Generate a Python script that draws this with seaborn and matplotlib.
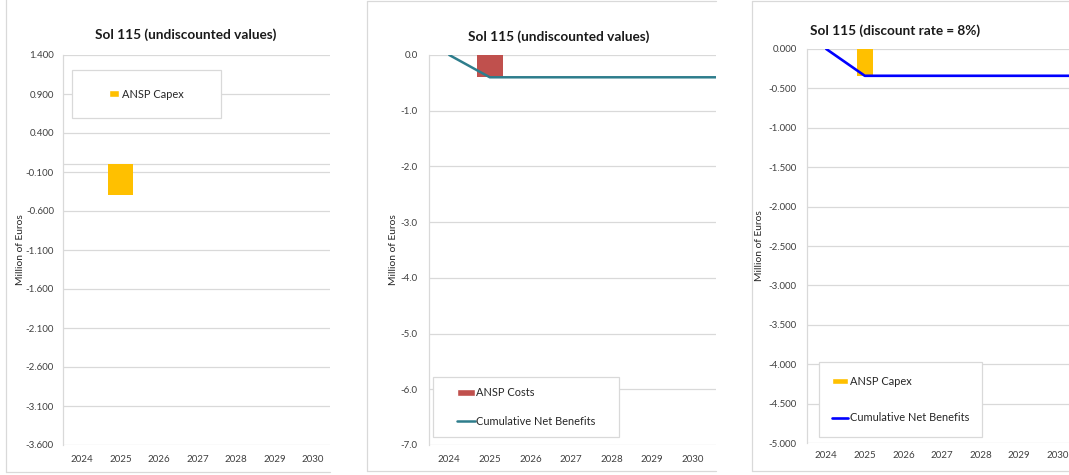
import matplotlib
matplotlib.use("Agg")
import matplotlib.pyplot as plt
from matplotlib.lines import Line2D
from matplotlib.patches import Patch, Rectangle
import seaborn as sns

# ---------------- data ----------------
years = ["2024", "2025", "2026", "2027", "2028", "2029", "2030", "2031"]
ansp_capex_undiscounted = [0.0, -0.39, 0.0, 0.0, 0.0, 0.0, 0.0, 0.0]
ansp_costs_undiscounted = [0.0, -0.40, 0.0, 0.0, 0.0, 0.0, 0.0, 0.0]
cum_net_benefits_undiscounted = [0.0, -0.40, -0.40, -0.40, -0.40, -0.40, -0.40, -0.40]
ansp_capex_discounted = [0.0, -0.34, 0.0, 0.0, 0.0, 0.0, 0.0, 0.0]
cum_net_benefits_discounted = [0.0, -0.34, -0.34, -0.34, -0.34, -0.34, -0.34, -0.34]

yticks_p1 = [1.4, 0.9, 0.4, -0.1, -0.6, -1.1, -1.6, -2.1, -2.6, -3.1, -3.6]
yticks_p2 = [0.0, -1.0, -2.0, -3.0, -4.0, -5.0, -6.0, -7.0]
yticks_p3 = [0.0, -0.5, -1.0, -1.5, -2.0, -2.5, -3.0, -3.5, -4.0, -4.5, -5.0]
visible_years = ["2024", "2025", "2026", "2027", "2028", "2029", "2030"]

titles = ["Sol 115 (undiscounted values)", "Sol 115 (undiscounted values)",
          "Sol 115 (discount rate = 8%)"]
ylabel = "Million of Euros"

# ---------------- style ----------------
sns.set_theme(style="white")
plt.rcParams["font.family"] = ["Lato", "DejaVu Sans"]
plt.rcParams["axes.unicode_minus"] = False

YELLOW = "#FFC000"
RED = "#C0504D"
TEAL = "#2E7D8C"
BLUE = "#0000FF"
GRID = "#D9D9D9"
TXT = "#404040"

W, H = 1069, 475
fig = plt.figure(figsize=(W / 100, H / 100), dpi=100)
fig.patch.set_facecolor("white")


def fx(px):
    return px / W


def fy(py):
    return 1 - py / H


def make_axes(l, r, t, b):
    return fig.add_axes([l / W, 1 - b / H, (r - l) / W, (b - t) / H])


def style_axes(ax, yticks, fmt, ylim, xlim, xpad, ypad, title, title_x, title_y, label_x):
    ax.set_ylim(*ylim)
    ax.set_xlim(*xlim)
    ax.set_yticks(yticks, labels=[fmt.format(v) for v in yticks])
    ax.set_xticks(range(len(visible_years)), labels=visible_years)
    ax.yaxis.grid(True, color=GRID, lw=0.9, zorder=0)
    ax.xaxis.grid(False)
    ax.set_axisbelow(True)
    for s in ["top", "right", "bottom"]:
        ax.spines[s].set_visible(False)
    ax.spines["left"].set_color(GRID)
    ax.spines["left"].set_linewidth(0.9)
    ax.tick_params(axis="both", length=0, labelsize=7, colors=TXT)
    ax.tick_params(axis="x", pad=xpad)
    ax.tick_params(axis="y", pad=ypad)
    ax.set_xlabel("")
    ax.set_ylabel(ylabel, fontsize=7.4, color="#262626")
    ax.yaxis.set_label_coords(label_x, 0.5)
    ax.text(title_x, title_y, title, transform=fig.transFigure, ha="center", va="center",
            fontsize=9.8, fontweight="bold", color="#1a1a1a")


def panel_border(l, t, r, b, top=True):
    kw = dict(transform=fig.transFigure, color=GRID, lw=0.9)
    fig.add_artist(Line2D([fx(l), fx(l)], [fy(t), fy(b)], **kw))
    fig.add_artist(Line2D([fx(l), fx(r)], [fy(b), fy(b)], **kw))
    if top:
        fig.add_artist(Line2D([fx(l), fx(r)], [fy(t), fy(t)], **kw))


def legend_box(l, t, r, b, handles, labels, hl, hh, spacing, tpad):
    fig.add_artist(Rectangle((fx(l), fy(b)), (r - l) / W, (b - t) / H,
                             transform=fig.transFigure, facecolor="white",
                             edgecolor=GRID, lw=0.9, zorder=3))
    leg = fig.legend(handles, labels, loc="center",
                     bbox_to_anchor=(fx((l + r) / 2), fy((t + b) / 2)),
                     bbox_transform=fig.transFigure, frameon=False,
                     fontsize=7.9, handlelength=hl, handleheight=hh,
                     labelspacing=spacing, handletextpad=tpad, borderpad=0.2)
    leg.set_zorder(4)
    for t_ in leg.get_texts():
        t_.set_color("#262626")


# panel borders
panel_border(5.5, -5, 330, 471.5, top=False)
panel_border(367, 1, 716, 471)
panel_border(752, 1, 1070, 471)

bar_kw = dict(order=years, saturation=1, errorbar=None, linewidth=0, zorder=3)

# ---------------- panel 1 ----------------
ax1 = make_axes(63, 330, 55, 445)
ax1.axhline(0, color=GRID, lw=0.9, zorder=1)
sns.barplot(x=years, y=ansp_capex_undiscounted, color=YELLOW, width=0.65, ax=ax1, **bar_kw)
style_axes(ax1, yticks_p1, "{:.3f}", (-3.6, 1.4), (-0.5, 6.44), 7, 6.5,
           titles[0], fx(186), fy(35), (25 - 63) / 267)
legend_box(72, 70, 221, 118, [Patch(facecolor=YELLOW)], ["ANSP Capex"],
           0.85, 0.55, 1.0, 0.3)

# ---------------- panel 2 ----------------
ax2 = make_axes(429, 716, 55, 445)
sns.barplot(x=years, y=ansp_costs_undiscounted, color=RED, width=0.65, ax=ax2, **bar_kw)
sns.lineplot(x=years, y=cum_net_benefits_undiscounted, color=TEAL, linewidth=1.8,
             sort=False, ax=ax2, zorder=4)
style_axes(ax2, yticks_p2, "{:.1f}", (-7.0, 0.0), (-0.5, 6.58), 7, 8,
           titles[1], fx(559), fy(37), (398 - 429) / 287)
legend_box(433, 377, 619, 437,
           [Patch(facecolor=RED), Line2D([], [], color=TEAL, lw=1.8)],
           ["ANSP Costs", "Cumulative Net Benefits"], 1.6, 0.55, 1.6, 0.1)

# ---------------- panel 3 ----------------
ax3 = make_axes(807, 1069, 49, 443)
sns.barplot(x=years, y=ansp_capex_discounted, color=YELLOW, width=0.4, ax=ax3, **bar_kw)
sns.lineplot(x=years, y=cum_net_benefits_discounted, color=BLUE, linewidth=1.9,
             sort=False, ax=ax3, zorder=4)
style_axes(ax3, yticks_p3, "{:.3f}", (-5.0, 0.0), (-0.5, 6.3), 6, 7.5,
           titles[2], fx(895), fy(31), (764 - 807) / 262)
legend_box(819, 362, 982, 437,
           [Patch(facecolor=YELLOW), Line2D([], [], color=BLUE, lw=1.9)],
           ["ANSP Capex", "Cumulative Net Benefits"], 1.45, 0.5, 2.3, 0.15)

for ax in (ax1, ax2, ax3):
    leg = ax.get_legend()
    if leg is not None:
        leg.remove()

fig.savefig("out.png", dpi=100, facecolor="white")
